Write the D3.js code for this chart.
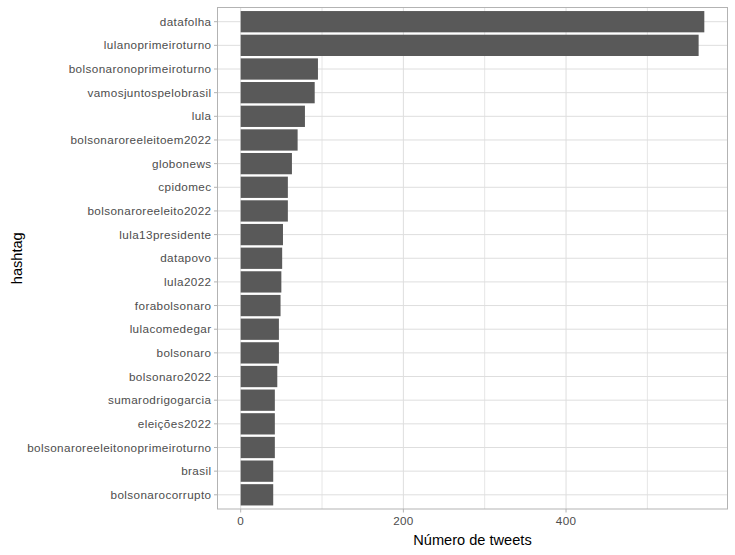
<!DOCTYPE html>
<html>
<head>
<meta charset="utf-8">
<script src="https://cdn.jsdelivr.net/npm/d3@7"></script>
<style>
  body { margin: 0; background: #fff; }
  svg { display: block; font-family: "Liberation Sans", Arial, sans-serif; }
</style>
</head>
<body>
<div id="chart"></div>
<script>
// hashtags, top to bottom
var hashtags = [
  "datafolha", "lulanoprimeiroturno", "bolsonaronoprimeiroturno",
  "vamosjuntospelobrasil", "lula", "bolsonaroreeleitoem2022", "globonews",
  "cpidomec", "bolsonaroreeleito2022", "lula13presidente", "datapovo",
  "lula2022", "forabolsonaro", "lulacomedegar", "bolsonaro", "bolsonaro2022",
  "sumarodrigogarcia", "eleições2022", "bolsonaroreeleitonoprimeiroturno",
  "brasil", "bolsonarocorrupto"
];
var tweets = [570, 563, 95, 91, 79, 70, 63, 58, 58, 52, 51, 50, 49, 47, 47, 45, 42, 42, 42, 40, 40];
var xTicks = [0, 200, 400];
var xMinor = [100, 300, 500];

var width = 735, height = 555;
var margin = {top: 7.5, right: 7.5, bottom: 46, left: 217.5};
var pw = width - margin.left - margin.right;
var ph = height - margin.top - margin.bottom;

var svg = d3.select('#chart').append('svg')
  .attr('width', width).attr('height', height);

var g = svg.append('g')
  .attr('transform', 'translate(' + margin.left + ',' + margin.top + ')');

var maxV = d3.max(tweets);
var x = d3.scaleLinear()
  .domain([-0.05 * maxV, 1.05 * maxV])
  .range([0, pw]);

// discrete scale with ggplot's 0.6 expansion
var n = hashtags.length;
var step = ph / (n - 1 + 1.2);
var y = function(i) { return (0.6 + i) * step; };

// grid
g.selectAll('line.minor').data(xMinor).enter().append('line')
  .attr('x1', x).attr('x2', x).attr('y1', 0).attr('y2', ph)
  .style('stroke', '#e6e6e6').style('stroke-width', 1);
g.selectAll('line.xmajor').data(xTicks).enter().append('line')
  .attr('x1', x).attr('x2', x).attr('y1', 0).attr('y2', ph)
  .style('stroke', '#dedede').style('stroke-width', 1);
g.selectAll('line.ymajor').data(hashtags).enter().append('line')
  .attr('x1', 0).attr('x2', pw)
  .attr('y1', function(d, i) { return y(i); })
  .attr('y2', function(d, i) { return y(i); })
  .style('stroke', '#dedede').style('stroke-width', 1);

// bars
g.selectAll('rect.bar').data(tweets).enter().append('rect')
  .attr('x', x(0))
  .attr('y', function(d, i) { return y(i) - 0.45 * step; })
  .attr('width', function(d) { return x(d) - x(0); })
  .attr('height', 0.9 * step)
  .style('fill', '#595959');

// panel border
g.append('rect')
  .attr('x', 0).attr('y', 0).attr('width', pw).attr('height', ph)
  .style('fill', 'none').style('stroke', '#b3b3b3').style('stroke-width', 1);

// y axis ticks + labels
var ya = g.selectAll('g.ytick').data(hashtags).enter().append('g')
  .attr('transform', function(d, i) { return 'translate(0,' + y(i) + ')'; });
ya.append('line').attr('x1', -3.5).attr('x2', 0)
  .style('stroke', '#b3b3b3');
ya.append('text')
  .attr('x', -6).attr('dy', '0.35em')
  .attr('text-anchor', 'end')
  .style('font-size', '11.7px').style('fill', '#4d4d4d')
  .style('letter-spacing', '0.4px')
  .text(function(d) { return d; });

// x axis ticks + labels
var xa = g.selectAll('g.xtick').data(xTicks).enter().append('g')
  .attr('transform', function(d) { return 'translate(' + x(d) + ',' + ph + ')'; });
xa.append('line').attr('y1', 0).attr('y2', 3.5)
  .style('stroke', '#b3b3b3');
xa.append('text')
  .attr('y', 15.5)
  .attr('text-anchor', 'middle')
  .style('font-size', '11.7px').style('fill', '#4d4d4d')
  .style('letter-spacing', '0.3px')
  .text(function(d) { return d; });

// axis titles
svg.append('text')
  .attr('x', margin.left + pw / 2).attr('y', 545)
  .attr('text-anchor', 'middle')
  .style('font-size', '14.6px').style('fill', '#000')
  .text('Número de tweets');

svg.append('text')
  .attr('transform', 'translate(22,' + (margin.top + ph / 2) + ') rotate(-90)')
  .attr('text-anchor', 'middle')
  .style('font-size', '14.6px').style('fill', '#000')
  .text('hashtag');
</script>
</body>
</html>
